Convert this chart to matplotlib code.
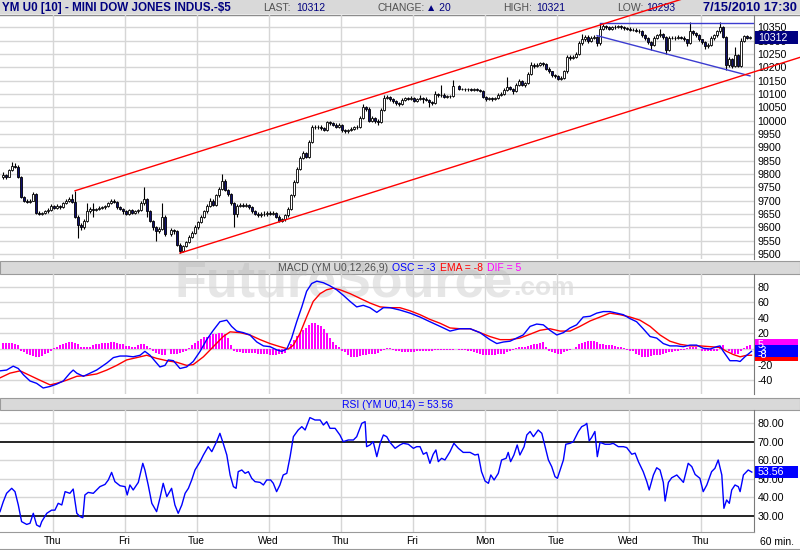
import numpy as np
import pandas as pd
import matplotlib
matplotlib.use("Agg")
import matplotlib.pyplot as plt
import matplotlib.transforms as mtransforms
from matplotlib.patches import Rectangle

plt.rcParams['font.family'] = ['Liberation Sans', 'DejaVu Sans']

# hourly bars of YM U0, open = previous close
close = [9795, 9790, 9815, 9830, 9828, 9790, 9715, 9700, 9695, 9700,
         9725, 9655, 9650, 9652, 9660, 9665, 9680, 9672, 9680, 9675,
         9690, 9700, 9705, 9695, 9640, 9610, 9600, 9625, 9660, 9670,
         9665, 9668, 9672, 9675, 9680, 9690, 9700, 9695, 9675, 9670,
         9660, 9650, 9665, 9655, 9660, 9665, 9690, 9705, 9660, 9625,
         9600, 9585, 9595, 9640, 9575, np.nan, 9590, 9585, 9535, 9512,
         9530, 9545, 9565, 9580, 9600, 9620, 9640, 9660, 9680, 9700,
         9685, 9720, 9745, 9775, 9740, 9725, 9690, 9650, 9680, 9685,
         9680, 9685, 9675, 9660, 9650, 9645, 9650, 9648, 9655, 9650,
         9655, 9640, 9625, 9630, 9645, 9670, 9720, 9770, 9820, 9860,
         9880, 9865, 9920, 9975, 9975, 9978, 9972, 9965, 9995, 9990,
         9985, 9978, 9985, 9965, 9960, 9965, 9970, 9975, 9978, 10010,
         10050, 10045, 10000, 10010, 10000, 9995, 10040, 10085, 10090, 10080,
         10072, 10065, 10062, 10078, 10085, 10083, 10086, 10075, 10080, 10085,
         10082, 10078, 10070, 10068, 10100, 10095, 10098, 10090, 10093, 10092,
         10130, np.nan, 10118, 10120, 10117, 10119, 10116, 10118, 10115, 10112,
         10090, 10080, 10085, 10080, 10085, 10098, 10100, 10115, 10125, 10120,
         10110, 10135, 10148, 10135, 10140, 10175, 10210, 10205, 10210, 10215,
         10212, 10195, 10185, 10170, 10168, 10158, 10160, 10185, 10240, 10235,
         10240, 10250, 10290, 10305, 10315, 10300, 10310, 10315, 10290, 10345,
         10355, 10350, 10345, 10350, 10352, 10355, 10350, 10348, 10345, 10340,
         10342, 10338, 10335, 10320, 10310, 10295, 10285, 10310, 10320, 10325,
         10315, 10265, 10310, 10312, 10310, 10315, 10312, 10305, 10290, 10335,
         10330, 10320, 10305, 10295, 10280, 10285, 10310, 10320, 10335, 10350,
         10315, 10210, 10230, 10205, 10245, 10205, 10300, 10318, 10312, 10312]
high = [9808, 9800, 9820, 9846, 9840, 9832, 9792, 9718, 9705, 9706,
        9732, 9728, 9660, 9658, 9665, 9672, 9686, 9684, 9686, 9684,
        9695, 9706, 9712, 9725, 9737, 9645, 9615, 9630, 9690, 9675,
        9690, 9672, 9678, 9680, 9685, 9696, 9706, 9705, 9698, 9680,
        9674, 9664, 9670, 9668, 9666, 9670, 9700, 9750, 9708, 9665,
        9628, 9605, 9600, 9690, 9645, np.nan, 9598, 9595, 9590, 9540,
        9535, 9550, 9570, 9585, 9608, 9625, 9646, 9666, 9688, 9708,
        9705, 9726, 9752, 9800, 9780, 9745, 9728, 9694, 9686, 9692,
        9690, 9690, 9688, 9678, 9664, 9656, 9656, 9662, 9660, 9660,
        9662, 9658, 9645, 9636, 9650, 9676, 9725, 9778, 9828, 9868,
        9888, 9884, 9928, 9982, 9982, 9984, 9982, 9976, 10000, 10000,
        9995, 9990, 9992, 9988, 9970, 9970, 9976, 9980, 9984, 10016,
        10062, 10056, 10050, 10016, 10014, 10005, 10046, 10095, 10098, 10094,
        10084, 10076, 10070, 10084, 10090, 10090, 10092, 10090, 10086, 10098,
        10090, 10088, 10082, 10075, 10110, 10105, 10135, 10102, 10098, 10098,
        10152, np.nan, 10132, 10124, 10124, 10124, 10122, 10122, 10121, 10120,
        10115, 10094, 10090, 10090, 10090, 10104, 10106, 10122, 10165, 10130,
        10124, 10140, 10155, 10152, 10146, 10182, 10222, 10215, 10216, 10222,
        10220, 10215, 10200, 10188, 10175, 10172, 10166, 10192, 10248, 10246,
        10246, 10256, 10300, 10325, 10322, 10320, 10316, 10322, 10318, 10365,
        10362, 10360, 10356, 10356, 10358, 10360, 10358, 10355, 10352, 10350,
        10348, 10346, 10344, 10340, 10325, 10315, 10300, 10316, 10326, 10345,
        10330, 10318, 10318, 10318, 10316, 10320, 10318, 10316, 10308, 10370,
        10340, 10334, 10324, 10308, 10298, 10292, 10316, 10326, 10342, 10370,
        10355, 10318, 10238, 10235, 10275, 10250, 10310, 10322, 10320, 10318]
low = [9780, 9782, 9788, 9812, 9822, 9785, 9708, 9695, 9690, 9690,
       9698, 9648, 9645, 9645, 9650, 9655, 9662, 9668, 9670, 9670,
       9672, 9686, 9696, 9690, 9635, 9560, 9590, 9595, 9620, 9655,
       9640, 9660, 9664, 9668, 9670, 9676, 9686, 9690, 9670, 9665,
       9650, 9645, 9646, 9650, 9650, 9655, 9660, 9685, 9640, 9618,
       9590, 9548, 9578, 9590, 9568, np.nan, 9568, 9575, 9528, 9503,
       9508, 9525, 9540, 9560, 9575, 9595, 9615, 9635, 9655, 9675,
       9678, 9680, 9715, 9740, 9735, 9718, 9685, 9600, 9640, 9675,
       9675, 9676, 9670, 9655, 9645, 9640, 9640, 9642, 9644, 9645,
       9646, 9635, 9620, 9618, 9625, 9640, 9665, 9715, 9765, 9815,
       9855, 9860, 9860, 9915, 9968, 9970, 9966, 9960, 9960, 9984,
       9980, 9972, 9974, 9958, 9955, 9955, 9960, 9966, 9970, 9974,
       10005, 10038, 9995, 9994, 9992, 9985, 9990, 10035, 10080, 10075,
       10066, 10058, 10055, 10058, 10074, 10078, 10078, 10070, 10070, 10076,
       10066, 10072, 10050, 10060, 10064, 10090, 10090, 10085, 10086, 10086,
       10088, np.nan, 10114, 10114, 10112, 10113, 10112, 10112, 10110, 10106,
       10085, 10075, 10076, 10074, 10076, 10082, 10094, 10096, 10110, 10114,
       10100, 10106, 10130, 10130, 10128, 10136, 10170, 10198, 10200, 10205,
       10205, 10190, 10178, 10165, 10160, 10152, 10152, 10156, 10180, 10228,
       10230, 10234, 10246, 10285, 10300, 10292, 10296, 10305, 10280, 10285,
       10340, 10344, 10340, 10340, 10345, 10347, 10345, 10342, 10340, 10335,
       10335, 10332, 10328, 10315, 10302, 10288, 10265, 10280, 10305, 10315,
       10308, 10250, 10260, 10305, 10304, 10305, 10306, 10298, 10280, 10286,
       10322, 10314, 10298, 10288, 10270, 10274, 10280, 10304, 10315, 10330,
       10310, 10190, 10200, 10198, 10200, 10200, 10200, 10296, 10306, 10306]
first_open = 9790
last_price = 10312

day_start = [17, 41, 65, 89, 113, 137, 161, 185, 209, 233]
day_names = ['Thu', 'Fri', 'Tue', 'Wed', 'Thu', 'Fri', 'Mon', 'Tue', 'Wed', 'Thu']
price_ticks = list(range(9500, 10351, 50))

# drawn trend lines, (bar, price)
chan_upper = [(24, 9737), (199, 10359)]
chan_lower_start = (59, 9503)
flat_line = [(199, 10365), (250.3, 10365)]
fall_line = [(198, 10319), (249, 10168)]

# MACD (12,26,9), (bar, value)
osc = [(-1.0, -28), (1.2, -27), (3.4, -22), (5.1, -25), (6.8, -33), (9.0, -41), (11.2, -44),
       (13.4, -50), (15.7, -48), (17.9, -45), (20.1, -41), (22.3, -31), (23.4, -27), (24.6, -31),
       (26.8, -35), (29.0, -31), (31.2, -27), (34.6, -18), (36.8, -11), (39.0, -9), (41.2, -9),
       (43.4, -10), (45.7, -8), (47.3, -3), (49.0, -8), (51.2, -18), (52.3, -23), (54.0, -21),
       (55.1, -14), (56.8, -15), (59.0, -25), (61.2, -23), (63.4, -16), (65.7, -3), (67.9, 12),
       (70.1, 24), (72.3, 35), (74.6, 37), (76.2, 29), (77.9, 23), (80.1, 21), (82.3, 18),
       (84.6, 9), (86.8, 4), (89.0, 3), (91.2, -1), (92.9, -3), (94.6, 0), (96.2, 14), (97.9, 35),
       (99.6, 54), (101.2, 74), (102.9, 84), (104.6, 87), (106.8, 85), (109.0, 81), (111.2, 76),
       (113.4, 69), (115.7, 61), (117.9, 54), (120.1, 56), (122.3, 53), (124.6, 47), (126.8, 53),
       (129.0, 53), (132.3, 50), (135.7, 46), (139.0, 41), (142.3, 35), (145.7, 29), (149.0, 23),
       (152.3, 26), (155.7, 26), (159.0, 21), (162.3, 12), (164.6, 7), (166.8, 9), (169.0, 10),
       (171.2, 14), (173.4, 18), (175.7, 29), (177.9, 32), (180.1, 31), (182.3, 24), (184.6, 18),
       (186.8, 21), (189.0, 27), (191.2, 31), (193.4, 41), (195.7, 42), (197.9, 46), (200.1, 48),
       (202.3, 48), (204.6, 46), (206.8, 44), (209.0, 39), (211.2, 35), (213.4, 26), (215.7, 16),
       (217.9, 14), (220.1, 7), (222.3, 4), (224.6, 4), (226.8, 3), (229.0, 5), (231.2, 5),
       (233.4, 1), (235.7, 0), (237.9, 3), (239.0, 4), (240.1, -3), (242.3, -15), (244.6, -15),
       (245.7, -16), (247.3, -10), (249.5, -3)]
ema = [(-1.0, -37), (2.3, -31), (5.7, -28), (9.0, -34), (12.3, -40), (15.7, -46), (17.9, -44),
       (21.2, -40), (24.6, -35), (27.9, -34), (31.2, -32), (34.6, -27), (37.9, -21), (41.2, -14),
       (44.6, -11), (47.9, -8), (51.2, -12), (54.6, -15), (57.9, -17), (61.2, -21), (63.4, -20),
       (66.8, -10), (70.1, 3), (73.4, 16), (75.7, 22), (79.0, 21), (82.3, 18), (85.7, 12),
       (89.0, 7), (92.3, 3), (95.1, 0), (96.8, 5), (99.0, 20), (101.2, 41), (103.4, 61),
       (105.7, 71), (107.9, 76), (110.1, 78), (112.3, 76), (115.7, 71), (119.0, 65), (122.3, 59),
       (125.7, 54), (129.0, 53), (132.3, 53), (135.7, 49), (139.0, 44), (142.3, 38), (145.7, 33),
       (149.0, 27), (152.3, 26), (155.7, 26), (159.0, 21), (162.3, 16), (165.7, 12), (169.0, 12),
       (172.3, 14), (175.7, 19), (179.0, 24), (182.3, 26), (185.7, 23), (189.0, 23), (192.3, 29),
       (195.7, 36), (199.0, 41), (202.3, 46), (205.7, 44), (209.0, 41), (212.3, 37), (215.7, 29),
       (219.0, 18), (222.3, 10), (225.7, 6), (229.0, 4), (232.3, 4), (235.7, 3), (239.0, 2),
       (241.2, -3), (243.4, -7), (245.7, -10), (247.9, -8), (249.5, -8)]
dif = [8, 8, 8, 8, 7, 5, -2, -4, -7, -8,
       -9, -10, -10, -9, -7, -5, -2, 1, 3, 5,
       6, 8, 9, 9, 8, 6, 3, 2, 2, 3,
       5, 6, 7, 8, 8, 8, 9, 9, 8, 7,
       6, 4, 4, 3, 3, 5, 7, 7, 4, 1,
       -2, -5, -7, -8, -8, np.nan, -7, -6, -6, -5,
       -4, -3, 1, 5, 8, 10, 13, 15, 16, 17,
       19, 19, 20, 20, 19, 14, 5, -2, -4, -4,
       -5, -5, -5, -5, -5, -6, -6, -6, -7, -8,
       -8, -8, -7, -7, -5, 0, 6, 12, 17, 21,
       24, 27, 31, 33, 33, 31, 29, 26, 20, 14,
       9, 5, 2, -2, -4, -8, -10, -10, -10, -9,
       -8, -8, -7, -6, -6, -5, -3, -1, 1, 1,
       -1, -3, -3, -4, -4, -4, -4, -4, -3, -3,
       -3, -3, -2, -2, -1, -1, -1, -1, -1, -1,
       -1, np.nan, -1, -1, -1, -2, -3, -4, -5, -7,
       -8, -8, -8, -8, -8, -7, -7, -6, -4, -2,
       -1, 1, 2, 3, 3, 4, 5, 6, 7, 8,
       9, 2, -3, -4, -5, -6, -7, -4, -2, -1,
       0, 3, 6, 8, 9, 10, 10, 10, 9, 7,
       6, 5, 5, 5, 4, 3, 2, 1, -1, -2,
       -3, -6, -8, -10, -10, -10, -9, -8, -8, -8,
       -7, -5, -4, -4, -3, -2, -1, -1, 1, 2,
       2, 2, 0, -2, -3, -3, -3, -3, -2, 3,
       5, 0, -3, -5, -7, -6, -2, 1, 4, 5]
macd_now = {'OSC': -3, 'EMA': -8, 'DIF': 5}

# RSI (14), (bar, value)
rsi = [(-1.0, 32.2), (0.1, 37.6), (1.2, 42.1), (2.9, 44.8), (4.0, 43.0), (5.1, 35.8), (6.2, 26.8),
       (7.9, 25.3), (9.0, 25.9), (10.1, 31.3), (11.2, 25.0), (12.3, 24.0), (12.9, 26.8), (14.6, 31.3),
       (16.2, 33.0), (17.3, 33.0), (18.4, 36.7), (19.6, 35.8), (20.7, 43.0), (22.3, 42.1), (23.4, 44.4),
       (24.6, 31.3), (25.7, 29.5), (26.6, 28.9), (27.3, 41.2), (28.4, 42.6), (30.1, 42.1), (32.3, 45.7),
       (34.0, 46.9), (35.1, 49.3), (36.2, 53.4), (37.3, 48.4), (39.0, 46.2), (40.7, 45.7), (41.4, 41.2),
       (42.3, 46.6), (43.4, 43.9), (45.1, 48.0), (46.6, 58.3), (47.3, 54.7), (48.4, 46.6), (49.6, 36.7),
       (51.2, 32.2), (52.3, 39.4), (53.4, 47.5), (54.6, 40.3), (56.2, 44.8), (57.3, 35.8), (58.4, 31.3),
       (59.6, 35.8), (60.7, 42.1), (61.8, 44.8), (62.9, 49.3), (64.0, 54.7), (65.7, 59.2), (66.8, 62.8),
       (68.4, 67.3), (69.6, 64.6), (71.2, 70.0), (72.3, 74.5), (73.4, 69.1), (74.6, 62.8), (75.7, 52.0),
       (76.8, 45.7), (77.7, 44.8), (78.4, 53.8), (79.6, 54.7), (80.7, 52.9), (81.8, 53.8), (82.9, 50.2),
       (84.0, 48.4), (85.7, 48.0), (86.8, 46.6), (87.9, 49.3), (89.2, 49.3), (90.1, 47.5), (91.2, 43.0),
       (92.3, 46.6), (93.4, 52.0), (94.6, 52.9), (95.7, 61.9), (96.8, 72.7), (98.4, 76.3), (99.6, 78.1),
       (100.7, 76.3), (102.3, 83.0), (104.0, 81.7), (105.7, 81.7), (106.8, 79.0), (107.9, 80.8),
       (109.0, 77.2), (110.7, 77.2), (112.3, 73.6), (113.4, 70.0), (115.1, 70.9), (116.8, 70.9),
       (117.9, 72.7), (119.6, 79.9), (120.7, 80.8), (121.2, 67.3), (122.3, 68.2), (123.4, 70.0),
       (124.6, 61.9), (125.7, 69.1), (126.8, 73.6), (127.9, 72.7), (129.0, 69.6), (130.7, 66.4),
       (132.3, 68.2), (133.4, 69.1), (135.1, 68.6), (136.8, 66.4), (137.9, 67.3), (139.0, 67.3),
       (140.1, 63.2), (141.2, 64.2), (142.3, 58.3), (143.4, 63.2), (144.3, 65.5), (145.1, 59.2),
       (146.2, 61.0), (147.3, 60.1), (149.0, 64.6), (150.3, 69.1), (151.8, 66.4), (153.4, 64.2),
       (155.7, 64.2), (157.3, 62.8), (158.4, 63.2), (159.5, 53.8), (160.7, 48.7), (161.8, 47.5),
       (162.6, 52.0), (163.7, 49.3), (165.1, 52.9), (166.2, 60.1), (167.7, 61.0), (168.4, 64.2),
       (169.2, 59.2), (170.3, 62.8), (171.4, 68.2), (172.3, 62.8), (173.7, 67.3), (174.6, 73.6),
       (175.7, 75.5), (176.8, 72.7), (178.4, 76.3), (179.6, 74.5), (180.7, 67.3), (181.8, 60.1),
       (182.9, 56.5), (184.0, 51.1), (184.8, 50.2), (185.7, 54.7), (186.8, 60.1), (187.6, 68.6),
       (189.0, 69.1), (190.1, 70.0), (191.8, 75.5), (192.9, 78.1), (194.0, 79.0), (194.6, 79.9),
       (195.4, 70.4), (196.2, 72.2), (197.3, 75.5), (198.1, 61.9), (199.0, 69.6), (200.7, 68.6),
       (202.3, 68.6), (203.4, 69.1), (205.1, 67.3), (206.8, 67.3), (207.9, 66.8), (209.6, 63.2),
       (210.7, 63.8), (211.8, 59.2), (213.4, 53.8), (214.6, 48.4), (215.4, 43.9), (216.8, 52.0),
       (217.9, 55.9), (219.0, 54.7), (220.1, 48.0), (220.7, 37.9), (221.8, 48.0), (222.9, 50.5),
       (224.6, 52.0), (226.8, 48.0), (228.4, 58.3), (229.6, 56.5), (230.7, 52.3), (232.3, 50.2),
       (233.4, 43.0), (234.6, 46.6), (236.2, 53.8), (237.3, 55.6), (238.4, 60.1), (239.6, 52.0),
       (240.3, 34.0), (241.2, 38.5), (242.1, 36.7), (242.9, 43.9), (244.0, 46.6), (245.1, 45.7),
       (245.7, 43.0), (246.8, 52.0), (248.4, 54.7), (249.6, 53.56)]
rsi_now = 53.56

W, H = 800, 550
XLIM = (-1, 250.33)
GRID = '#d6d6d6'
NAVY = '#000080'
GRAY_TXT = '#505050'

fig = plt.figure(figsize=(W / 100, H / 100), dpi=100)


def add_panel(box, z):
    x0, y0, x1, y1 = box
    return fig.add_axes([x0 / W, 1 - y1 / H, (x1 - x0) / W, (y1 - y0) / H], zorder=z)


# background layer in pixel units: header bars, titles, watermark
bg = add_panel((0, 0, W, H), -5)
bg.set_xlim(0, W)
bg.set_ylim(H, 0)
bg.axis('off')
bg.add_patch(Rectangle((0, 0), W, 14, fc='#d9d9d9', ec='none'))
bg.plot([0, W], [14.5, 14.5], color='#8c8c8c', lw=1)
for y in (261, 397.5):
    bg.add_patch(Rectangle((0, y), W, 12.5, fc='#d9d9d9', ec='#9a9a9a', lw=0.8))
bg.plot([0, W], [549, 549], color='#9a9a9a', lw=0.8)

bg.text(175, 297, 'FutureSource', fontsize=37.5, fontweight='bold',
        color='#b4b4b4', alpha=0.33, va='baseline', zorder=3)
bg.text(513, 295, '.com', fontsize=19, fontweight='bold',
        color='#b4b4b4', alpha=0.33, va='baseline', zorder=3)


def text_row(x, y, pieces, size, gap=4, **kw):
    """colored text pieces placed one after the other on a common baseline"""
    r = fig.canvas.get_renderer()
    inv = bg.transData.inverted()
    for s, col in pieces:
        t = bg.text(x, y, s, fontsize=size, color=col, va='baseline', zorder=4, **kw)
        bb = t.get_window_extent(r)
        x = inv.transform((bb.x1, bb.y0))[0] + gap


bg.text(2, 11, 'YM U0 [10] - MINI DOW JONES INDUS.-$5', fontsize=8.4, fontweight='bold',
        color=NAVY, va='baseline')
head = [(263, 'LAST:', GRAY_TXT), (296, '10312', NAVY), (377, 'CHANGE:', GRAY_TXT),
        (426, '\u25b2 20', NAVY), (503, 'HIGH:', GRAY_TXT), (536, '10321', NAVY),
        (617, 'LOW:', GRAY_TXT), (646, '10293', NAVY)]
for x, s, col in head:
    bg.text(x, 11, s, fontsize=7.5, color=col, va='baseline', zorder=4)
bg.text(797, 11, '7/15/2010 17:30', fontsize=9.3, fontweight='bold',
        color=NAVY, va='baseline', ha='right')

text_row(278, 271, [('MACD (YM U0,12,26,9)', GRAY_TXT), ('OSC = %d' % macd_now['OSC'], '#0000ff'),
                    ('EMA = %d' % macd_now['EMA'], '#ff0000'), ('DIF = %d' % macd_now['DIF'], '#ff00ff')], 7.5)
text_row(342, 407.5, [('RSI (YM U0,14) = %.2f' % rsi_now, '#0000ff')], 7.5)
bg.text(777, 542, '60 min.', fontsize=7.5, ha='center', va='center')


def style(ax, ylim, ticks, labels, grid_ticks):
    ax.set_facecolor('none')
    ax.set_xlim(*XLIM)
    ax.set_ylim(*ylim)
    for s in ('top', 'left', 'bottom'):
        ax.spines[s].set_visible(False)
    ax.spines['right'].set_color('#7a7a7a')
    ax.yaxis.tick_right()
    ax.set_yticks(ticks, labels)
    ax.tick_params(axis='y', length=0, pad=2.5, labelsize=7.7)
    ax.tick_params(axis='x', length=0, labelbottom=False)
    for d in day_start:
        ax.axvline(d - 0.5, color=GRID, lw=1, zorder=0)
    for t in grid_ticks:
        ax.axhline(t, color=GRID, lw=1, zorder=0)


def value_box(ax, v, text, fc, h_px, tc='white'):
    tr = mtransforms.blended_transform_factory(ax.transAxes, ax.transData)
    y0, y1 = ax.get_ylim()
    per_px = (y1 - y0) / (ax.get_position().height * H)
    ax.add_patch(Rectangle((1.0015, v - h_px / 2 * per_px), 0.057, h_px * per_px,
                           transform=tr, fc=fc, ec='none', clip_on=False, zorder=6))
    ax.text(1.005, v, text, transform=tr, color=tc, fontsize=7.7, va='center', zorder=7, clip_on=False)


# ---- price panel ----
ax = add_panel((0, 15, 754, 259), 1)
style(ax, (9481, 10396.5), price_ticks, [str(p) for p in price_ticks], price_ticks)

c = pd.Series(close, dtype=float)
o = c.ffill().shift(1)
o.iloc[0] = first_open
idx = np.arange(len(c))
ax.vlines(idx, low, high, color='black', lw=0.8, zorder=2)
for i in idx:
    if np.isnan(c[i]):
        continue
    body = max(abs(c[i] - o[i]), 2.0)
    up = c[i] >= o[i]
    ax.add_patch(Rectangle((i - 0.4, min(o[i], c[i])), 0.8, body,
                           fc='white' if up else '#10106e', ec='black', lw=0.6, zorder=3))

slope = (chan_upper[1][1] - chan_upper[0][1]) / (chan_upper[1][0] - chan_upper[0][0])
x_end = (W - 3) / 3.0
ax.plot([chan_upper[0][0], x_end], [chan_upper[0][1], chan_upper[0][1] + slope * (x_end - chan_upper[0][0])],
        color='#ff0000', lw=1, clip_on=False, zorder=5)
ax.plot([chan_lower_start[0], x_end],
        [chan_lower_start[1], chan_lower_start[1] + slope * (x_end - chan_lower_start[0])],
        color='#ff0000', lw=1, clip_on=False, zorder=5)
for line in (flat_line, fall_line):
    ax.plot([p[0] for p in line], [p[1] for p in line], color='#3c3cd0', lw=1, zorder=4)
value_box(ax, last_price, str(last_price), NAVY, 13)

# ---- MACD panel ----
ax2 = add_panel((0, 274, 754, 394), 1)
mt = [-40, -20, 20, 40, 60, 80]
style(ax2, (-57.7, 96.2), mt, [str(t) for t in mt], mt + [0])
ax2.bar(idx, dif, width=0.6, color='#ff00ff', lw=0, zorder=2)
ax2.plot([p[0] for p in osc], [p[1] for p in osc], color='#0000ff', lw=1, zorder=4)
ax2.plot([p[0] for p in ema], [p[1] for p in ema], color='#ff0000', lw=1, zorder=3)
value_box(ax2, macd_now['EMA'], str(macd_now['EMA']), '#ff0000', 12)
value_box(ax2, macd_now['DIF'], str(macd_now['DIF']), '#ff00ff', 12)
value_box(ax2, macd_now['OSC'], str(macd_now['OSC']), '#0000ff', 12)

# ---- RSI panel ----
ax3 = add_panel((0, 410, 754, 532), 1)
rt = [30, 40, 50, 60, 70, 80]
style(ax3, (21.2, 87.1), rt, ['%.2f' % t for t in rt], [40, 50, 60, 80])
for t in (30, 70):
    ax3.axhline(t, color='black', lw=1.2, zorder=1)
ax3.spines['bottom'].set_visible(True)
ax3.spines['bottom'].set_color('#9a9a9a')
ax3.plot([p[0] for p in rsi], [p[1] for p in rsi], color='#0000ff', lw=1, zorder=3)
value_box(ax3, rsi_now, '%.2f' % rsi_now, '#0000ff', 12)
ax3.set_xticks([d - 0.5 for d in day_start], day_names)
ax3.tick_params(axis='x', labelbottom=True, length=0, pad=3, labelsize=7.3)

fig.savefig('out.png', dpi=100)
